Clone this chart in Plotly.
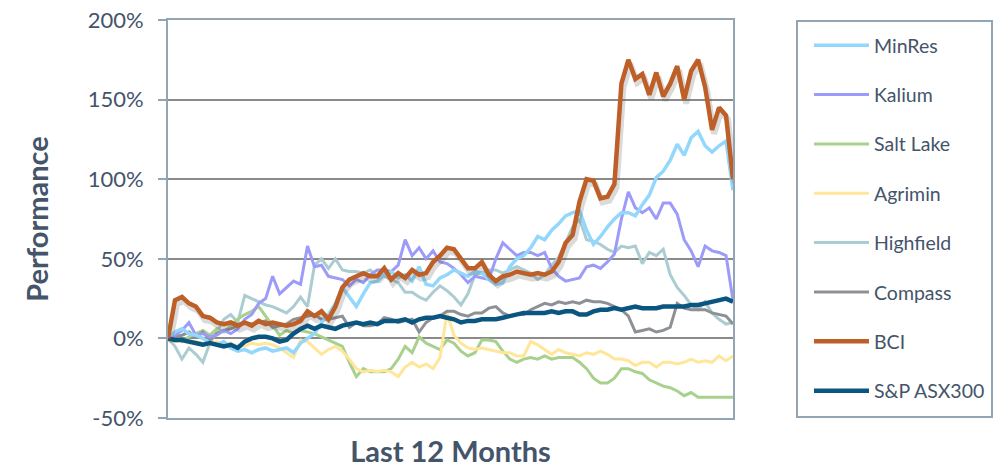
import plotly.graph_objects as go

# trading days over the last 12 months (sampled)
days = list(range(82))

minres = [0, 4, 6, 3, 2, 0, -3, -4, -2, -6, -8, -7, -9, -7, -6, -8, -7, -6, -9, -3,
          0, 3, 10, 15, 22, 32, 26, 20, 28, 35, 36, 40, 42, 38, 40, 36, 45, 34, 33, 38,
          40, 43, 41, 39, 42, 41, 37, 34, 35, 45, 50, 52, 57, 64, 62, 68, 72, 77, 79, 80,
          68, 59, 64, 70, 75, 79, 79, 77, 84, 90, 101, 105, 112, 122, 115, 126, 130, 121, 117, 121,
          124, 93]
kalium = [0, 2, 5, 10, 2, 3, 1, 2, 5, 3, 6, 12, 15, 22, 25, 39, 28, 32, 36, 34,
          58, 45, 46, 39, 38, 37, 33, 37, 35, 40, 43, 43, 42, 46, 62, 52, 57, 50, 55, 48,
          47, 44, 40, 35, 39, 38, 37, 50, 60, 56, 52, 54, 54, 52, 54, 44, 39, 36, 37, 38,
          45, 46, 44, 48, 53, 75, 92, 82, 79, 82, 75, 85, 85, 78, 62, 55, 45, 58, 55, 54,
          52, 24]
saltlake = [0, 2, -2, 1, 3, 5, 2, 6, 4, 8, 12, 15, 17, 20, 14, 8, 2, 5, 3, 5,
            4, 3, 1, -1, -3, -5, -15, -24, -19, -21, -21, -21, -19, -13, -5, -9, 1, -3, -5, -7,
            -1, -3, -8, -11, -9, -1, -1, -2, -8, -13, -15, -13, -12, -13, -11, -13, -12, -12, -12, -15,
            -19, -25, -28, -28, -25, -19, -19, -21, -22, -26, -28, -30, -31, -33, -36, -34, -37, -37, -37, -37,
            -37, -37]
agrimin = [0, -2, -1, -3, -2, -3, -4, -2, -4, -3, -5, -5, -3, -4, -3, -4, -6, -9, -12, -1,
           -2, -6, -10, -7, -5, -8, -13, -19, -21, -20, -21, -20, -21, -24, -18, -15, -18, -16, -19, -12,
           16, 2, -3, -6, -7, -6, -7, -8, -9, -9, -11, -11, -2, -4, -7, -10, -7, -9, -10, -11,
           -9, -10, -8, -10, -13, -13, -14, -17, -15, -15, -18, -15, -15, -16, -15, -13, -15, -14, -15, -11,
           -14, -11]
highfield = [0, -5, -13, -6, -10, -15, -3, 4, 12, 15, 10, 27, 25, 23, 21, 20, 18, 16, 20, 26,
             20, 46, 50, 44, 50, 43, 42, 42, 41, 43, 39, 39, 37, 35, 29, 29, 26, 24, 29, 33,
             30, 26, 21, 28, 40, 41, 43, 43, 41, 43, 45, 43, 41, 37, 40, 46, 51, 60, 70, 75,
             62, 61, 59, 56, 54, 58, 57, 58, 47, 54, 52, 56, 40, 32, 27, 21, 18, 23, 16, 12,
             9, 10]
compass = [0, 1, 2, 4, 1, 4, -1, 3, 5, 6, 8, 10, 9, 10, 11, 7, 8, 9, 12, 13,
           14, 15, 12, 12, 13, 14, 7, 10, 8, 8, 9, 13, 12, 10, 11, 12, 4, 10, 13, 14,
           17, 17, 15, 14, 16, 16, 19, 20, 16, 14, 15, 15, 18, 20, 22, 21, 23, 22, 23, 22,
           24, 23, 23, 22, 20, 18, 14, 4, 5, 6, 4, 5, 7, 22, 19, 18, 18, 18, 16, 15,
           14, 9]
bci = [0, 24, 26, 22, 20, 14, 13, 10, 9, 10, 8, 10, 8, 11, 9, 10, 9, 8, 9, 11,
       17, 14, 17, 12, 20, 32, 37, 39, 41, 39, 39, 44, 37, 41, 38, 43, 40, 41, 48, 52,
       57, 56, 50, 44, 44, 48, 40, 36, 39, 40, 42, 41, 40, 41, 40, 42, 48, 60, 65, 86,
       100, 99, 88, 89, 97, 160, 175, 163, 166, 153, 167, 152, 160, 171, 150, 168, 175, 158, 131, 145,
       140, 100]
asx300 = [0, -1, -1, -2, -3, -4, -3, -4, -5, -4, -6, -2, 0, 1, 1, 0, -2, -1, 3, 6,
          8, 6, 8, 7, 6, 8, 9, 10, 9, 10, 9, 11, 11, 11, 12, 10, 12, 13, 13, 14,
          13, 12, 10, 11, 11, 12, 12, 12, 13, 14, 15, 16, 16, 16, 16, 17, 16, 17, 17, 15,
          15, 17, 18, 18, 19, 18, 19, 20, 19, 19, 19, 20, 20, 20, 20, 21, 21, 22, 23, 24,
          25, 23]

y_ticks = [-50, 0, 50, 100, 150, 200]
y_labels = ["-50%", "0%", "50%", "100%", "150%", "200%"]

text_col = "#44546a"
frame_col = "#93a5b3"
font = "Lato"

fig = go.Figure()

# drawn back to front; legendrank keeps the legend order of the original
series = [
    ("Highfield", highfield, "#abcdd2", 3, 5),
    ("Salt Lake", saltlake, "#a9d18e", 3, 3),
    ("Agrimin", agrimin, "#ffe699", 3, 4),
    ("Compass", compass, "#8d9196", 3, 6),
    ("Kalium", kalium, "#9d9bfa", 3, 2),
    ("MinRes", minres, "#93d8fc", 3.5, 1),
    ("S&P ASX300", asx300, "#0b5581", 4.5, 8),
]
for name, vals, col, w, rank in series:
    fig.add_trace(go.Scatter(x=days, y=vals, name=name, mode="lines",
                             line=dict(color=col, width=w), legendgroup=name,
                             legendrank=rank))

# soft shadow under BCI, on a slightly offset overlay axis
fig.add_trace(go.Scatter(x=days, y=bci, mode="lines", showlegend=False, hoverinfo="skip",
                         line=dict(color="rgba(70,70,70,0.2)", width=6),
                         xaxis="x2", yaxis="y2"))
fig.add_trace(go.Scatter(x=days, y=bci, name="BCI", mode="lines",
                         line=dict(color="#bd5f26", width=4.5), legendgroup="BCI",
                         legendrank=7, xaxis="x3", yaxis="y3"))

px_x = 81 / 565
px_y = 250 / 398
hidden = dict(visible=False, showgrid=False, zeroline=False)

fig.update_layout(
    width=996, height=468,
    margin=dict(l=168, r=263, t=20, b=50, autoexpand=False),
    plot_bgcolor="white", paper_bgcolor="white",
    font=dict(family=font, color=text_col),
    showlegend=True,
    legend=dict(x=(809 - 168) / 565, y=(418 - 26) / 398, xanchor="left", yanchor="top",
                font=dict(size=19.5, color=text_col, family=font),
                tracegroupgap=21, itemwidth=55, bgcolor="rgba(0,0,0,0)", maxheight=460),
    xaxis=dict(range=[0, 81], showgrid=False, zeroline=False, showticklabels=False,
               ticks="", showline=True, mirror=True, linecolor=frame_col, linewidth=2,
               title=dict(text="<b>Last 12 Months</b>", font=dict(size=29, color=text_col),
                          standoff=27)),
    yaxis=dict(range=[-50, 200], tickvals=y_ticks, ticktext=y_labels, showgrid=True,
               gridcolor="#8a8a8a", gridwidth=2, zeroline=False,
               showline=True, mirror=True, linecolor=frame_col, linewidth=2,
               ticks="outside", ticklen=8, tickcolor=frame_col, tickwidth=1.5,
               ticklabelstandoff=10, ticklabeloverflow="allow",
               tickfont=dict(size=22, color=text_col),
               title=dict(text="<b>Performance</b>", font=dict(size=29, color=text_col),
                          standoff=31)),
    xaxis2=dict(range=[-2 * px_x, 81 - 2 * px_x], overlaying="x", **hidden),
    yaxis2=dict(range=[-50 + 4 * px_y, 200 + 4 * px_y], overlaying="y", **hidden),
    xaxis3=dict(range=[0, 81], overlaying="x", **hidden),
    yaxis3=dict(range=[-50, 200], overlaying="y", **hidden),
    shapes=[dict(type="rect", xref="paper", yref="paper",
                 x0=(797 - 168) / 565, x1=(992 - 168) / 565,
                 y0=(418 - 417) / 398, y1=(418 - 21) / 398,
                 line=dict(color=frame_col, width=2))],
)

# drop the browser's default body margin so the figure fills the window
fig.write_html("out.html", config={"displayModeBar": False},
               post_script="document.body.style.margin = '0';")
